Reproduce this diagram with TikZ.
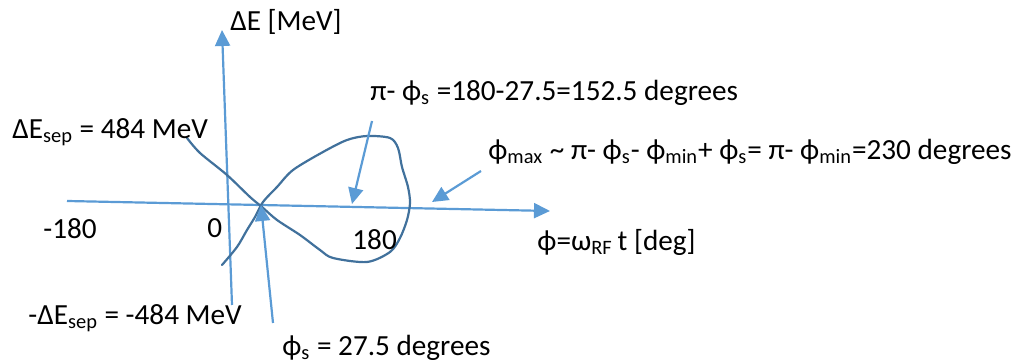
\documentclass[tikz,border=0pt]{standalone}
\usepackage{fontspec}
\setmainfont{Carlito}
\usetikzlibrary{arrows.meta}
\definecolor{axisblue}{RGB}{91,155,213}
\definecolor{curveblue}{RGB}{65,113,156}

\begin{document}
\begin{tikzpicture}[
  x=0.5pt, y=-0.5pt,
  every node/.style={font=\fontsize{14.6}{17}\selectfont, inner sep=0pt, anchor=west},
  axis/.style={axisblue, line width=1.1pt, -{Triangle[length=8pt,width=7.5pt]}},
  pointer/.style={axis},
  sepx/.style={curveblue, line width=1.1pt, line join=round, line cap=round}
]
\useasboundingbox (0,0) rectangle (1012,362);

% axes
\coordinate (e0) at (232,305);
\coordinate (e1) at (222,30);
\coordinate (p0) at (67,201);
\coordinate (p1) at (550,211);
\draw[axis] (e0) -- (e1);
\draw[axis] (p0) -- (p1);

% separatrix
\draw[sepx] plot[smooth, tension=0.5] coordinates {
  (187,138) (200,153) (227,175) (250,197) (262,207) (277,220) (300,235)
  (320,250) (333,258) (367,262) (390,252) (400,238) (407,220) (410,203)
  (408,187) (402,167) (398,148) (390,138) (367,136) (347,140) (323,152)
  (293,170) (277,187) (263,202) (255,217) (247,230) (237,247) (222,265)};

% labels
\node (elab) at (230,22) {ΔE [MeV]};
\node (plab) at (537,242) {ϕ=ω\textsubscript{RF}\,t [deg]};
\node (mneg) at (43,229) {-180};
\node (mzero) at (207,228) {0};
\node (mpos) at (352,240) {180};
\node (etop) at (12,132) {ΔE\textsubscript{sep} = 484 MeV};
\node (ebot) at (28,318) {-ΔE\textsubscript{sep} = -484 MeV};
\node (slab) at (282,348) {ϕ\textsubscript{s} = 27.5 degrees};
\node (pilab) at (370,93) {π- ϕ\textsubscript{s} =180-27.5=152.5 degrees};
\node (maxlab) at (488,152) {ϕ\textsubscript{max} \textasciitilde{} π- ϕ\textsubscript{s}- ϕ\textsubscript{min}+ ϕ\textsubscript{s}= π- ϕ\textsubscript{min}=230 degrees};

% pointers
\coordinate (s0) at (273,323);
\coordinate (s1) at (261,205);
\coordinate (q0) at (372,121);
\coordinate (q1) at (352,204);
\coordinate (r0) at (481,171);
\coordinate (r1) at (432,202);
\draw[pointer] (s0) -- (s1);
\draw[pointer] (q0) -- (q1);
\draw[pointer] (r0) -- (r1);
\end{tikzpicture}
\end{document}
